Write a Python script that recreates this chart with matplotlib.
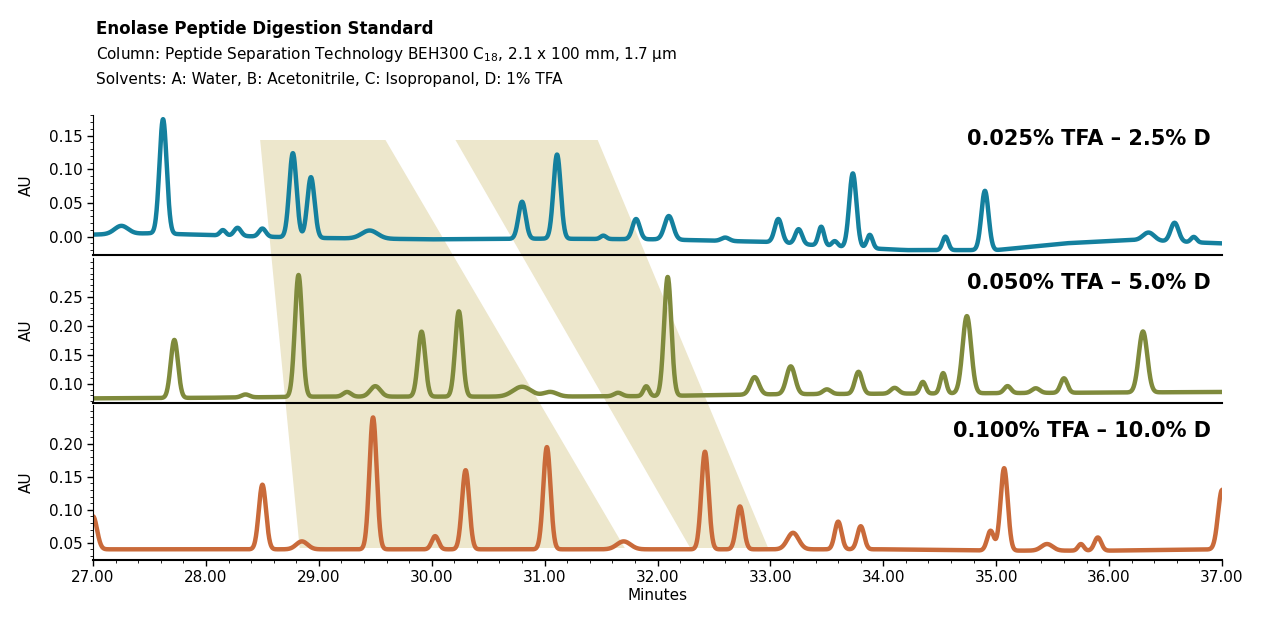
import matplotlib
matplotlib.use("Agg")
import matplotlib.pyplot as plt
import matplotlib.transforms as mtransforms
from matplotlib.patches import Polygon
import numpy as np

# ── Data ──────────────────────────────────────────────────────────────────────
X_MIN, X_MAX = 27.0, 37.0
TICKS = [27, 28, 29, 30, 31, 32, 33, 34, 35, 36, 37]

# peak lists: retention time (min), height above baseline (AU), width sigma (min)
p1_rt = [27.25, 27.62, 28.15, 28.28, 28.50, 28.77, 28.93, 29.45, 30.80, 31.11, 31.52, 31.81, 32.10, 32.60, 33.07, 33.25, 33.45, 33.57, 33.73, 33.88, 34.55, 34.90, 36.35, 36.58, 36.75]
p1_h  = [0.012, 0.17, 0.008, 0.012, 0.012, 0.125, 0.09, 0.012, 0.055, 0.125, 0.005, 0.03, 0.035, 0.005, 0.035, 0.022, 0.028, 0.008, 0.11, 0.02, 0.02, 0.088, 0.012, 0.028, 0.008]
p1_w  = [0.06, 0.032, 0.025, 0.03, 0.03, 0.032, 0.032, 0.07, 0.032, 0.032, 0.025, 0.032, 0.038, 0.035, 0.032, 0.03, 0.025, 0.025, 0.032, 0.025, 0.025, 0.032, 0.05, 0.035, 0.025]
b1_x = [27.0, 27.5, 28.5, 29.0, 30.0, 31.0, 32.0, 33.0, 33.6, 34.2, 35.0, 35.6, 36.2, 37.0]
b1_y = [0.003, 0.005, 0.0, -0.002, -0.004, -0.003, -0.004, -0.008, -0.015, -0.02, -0.02, -0.01, -0.005, -0.01]

p2_rt = [27.72, 28.35, 28.82, 29.25, 29.50, 29.91, 30.24, 30.80, 31.05, 31.65, 31.90, 32.09, 32.86, 33.18, 33.50, 33.78, 34.10, 34.35, 34.53, 34.74, 35.10, 35.35, 35.60, 36.30]
p2_h  = [0.1, 0.005, 0.21, 0.008, 0.018, 0.112, 0.147, 0.017, 0.008, 0.006, 0.017, 0.205, 0.03, 0.048, 0.008, 0.038, 0.01, 0.02, 0.035, 0.133, 0.012, 0.008, 0.025, 0.105]
p2_w  = [0.032, 0.035, 0.032, 0.035, 0.045, 0.032, 0.032, 0.08, 0.06, 0.035, 0.025, 0.032, 0.038, 0.038, 0.035, 0.032, 0.035, 0.025, 0.025, 0.038, 0.03, 0.035, 0.03, 0.038]
b2_x = [27.0, 28.0, 29.0, 30.0, 31.0, 32.0, 33.0, 34.0, 35.0, 36.0, 37.0]
b2_y = [0.075, 0.076, 0.078, 0.078, 0.078, 0.079, 0.082, 0.083, 0.084, 0.085, 0.086]

p3_rt = [27.0, 28.50, 28.85, 29.48, 30.03, 30.30, 31.02, 31.70, 32.42, 32.73, 33.20, 33.60, 33.80, 34.95, 35.07, 35.45, 35.75, 35.90, 37.0]
p3_h  = [0.05, 0.098, 0.012, 0.2, 0.02, 0.12, 0.155, 0.012, 0.148, 0.065, 0.025, 0.042, 0.035, 0.03, 0.125, 0.01, 0.01, 0.02, 0.09]
p3_w  = [0.035, 0.032, 0.05, 0.032, 0.03, 0.032, 0.032, 0.06, 0.032, 0.032, 0.05, 0.03, 0.03, 0.03, 0.032, 0.05, 0.025, 0.03, 0.035]
b3_x = [27.0, 28.0, 29.0, 30.0, 31.0, 32.0, 33.0, 34.0, 35.0, 36.0, 37.0]
b3_y = [0.04, 0.04, 0.04, 0.04, 0.04, 0.04, 0.04, 0.04, 0.038, 0.038, 0.04]

LABELS = ["0.025% TFA – 2.5% D", "0.050% TFA – 5.0% D", "0.100% TFA – 10.0% D"]
COLOURS = ["#14809e", "#7f8a3c", "#c96a3a"]
YTICKS = [[0.00, 0.05, 0.10, 0.15],
          [0.10, 0.15, 0.20, 0.25],
          [0.05, 0.10, 0.15, 0.20]]
YLIMS = [(-0.027, 0.181), (0.067, 0.317), (0.024, 0.259)]

# shaded bands: x at top and bottom (min)
band_top = [(28.48, 29.59), (30.21, 31.47)]
band_bot = [(28.83, 31.71), (32.29, 32.98)]

# ── Build traces ──────────────────────────────────────────────────────────────
t = np.linspace(X_MIN, X_MAX, 4000)

def trace(rt, h, w, bx, by):
    y = np.interp(t, bx, by)
    for r, a, s in zip(rt, h, w):
        y = y + a * np.exp(-0.5 * ((t - r) / s) ** 2)
    return y

traces = [trace(p1_rt, p1_h, p1_w, b1_x, b1_y),
          trace(p2_rt, p2_h, p2_w, b2_x, b2_y),
          trace(p3_rt, p3_h, p3_w, b3_x, b3_y)]

# ── Figure ────────────────────────────────────────────────────────────────────
fig = plt.figure(figsize=(12.8, 6.2), dpi=100)
boxes = [(0.0727, 0.589, 0.882, 0.226),
         (0.0727, 0.350, 0.882, 0.234),
         (0.0727, 0.097, 0.882, 0.250)]
axes = []
for i, box in enumerate(boxes):
    ax = fig.add_axes(box)
    ax.patch.set_alpha(0)
    ax.plot(t, traces[i], color=COLOURS[i], lw=3.2, solid_joinstyle="round")
    ax.set_xlim(X_MIN, X_MAX)
    ax.set_yticks(YTICKS[i])
    ax.set_yticklabels([f"{v:.2f}" for v in YTICKS[i]], fontsize=11)
    ax.set_xticks(TICKS)
    ax.set_xticks(np.arange(27, 37.01, 0.2), minor=True)
    ax.set_yticks(np.arange(YTICKS[i][0] - 0.05, YLIMS[i][1], 0.01), minor=True)
    ax.set_ylim(*YLIMS[i])
    ax.set_ylabel("AU", fontsize=11)
    ax.yaxis.set_label_coords(-0.052, 0.5)
    for s in ["top", "right"]:
        ax.spines[s].set_visible(False)
    ax.spines["bottom"].set_linewidth(1.5)
    ax.tick_params(direction="out", length=4, width=1)
    ax.tick_params(which="minor", length=2)
    if i < 2:
        ax.tick_params(axis="x", which="both", bottom=False, labelbottom=False)
    ax.text(0.99, 0.83, LABELS[i], transform=ax.transAxes, ha="right",
            va="center", fontsize=15, fontweight="bold")
    axes.append(ax)

axes[2].set_xticklabels([f"{v:.2f}" for v in TICKS], fontsize=11)
axes[2].set_xlabel("Minutes", fontsize=11, labelpad=2)

# beige bands across all panels
trans = mtransforms.blended_transform_factory(axes[2].transData, fig.transFigure)
y_top, y_bot = 1 - 140 / 620, 1 - 548 / 620
for (tl, tr), (bl, br) in zip(band_top, band_bot):
    poly = Polygon([(tl, y_top), (tr, y_top), (br, y_bot), (bl, y_bot)],
                   closed=True, transform=trans, facecolor="#ede7cc",
                   edgecolor="none", zorder=-5)
    fig.patches.append(poly)

fig.text(0.075, 0.945, "Enolase Peptide Digestion Standard", fontsize=12, fontweight="bold")
fig.text(0.075, 0.905, "Column: Peptide Separation Technology BEH300 C$_{18}$, 2.1 x 100 mm, 1.7 µm", fontsize=11)
fig.text(0.075, 0.865, "Solvents: A: Water, B: Acetonitrile, C: Isopropanol, D: 1% TFA", fontsize=11)

fig.savefig("out.png", dpi=100)
